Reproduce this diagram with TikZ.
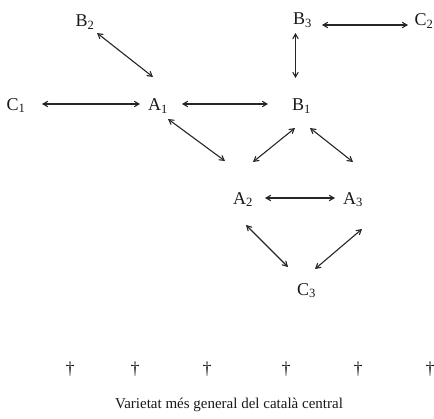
\documentclass[tikz,border=0pt]{standalone}
\usepackage{fontspec}
\setmainfont{Liberation Serif}
\usetikzlibrary{arrows}
\def\vr#1#2{#1\textsubscript{#2}}

\begin{document}
\begin{tikzpicture}[x=1pt,y=-1pt,>=angle 60,node distance=140pt,
    every node/.style={font=\fontsize{18}{20}\selectfont,text=black!90},
    link/.style={<->,draw=black!85,line width=1.1pt}]

    \useasboundingbox (0,0) rectangle (434,418);

    \draw (16,105.5) node (C1) {\vr{C}{1}};

    \node[right of=C1,xshift=2pt,yshift=-0.5pt] (A1) {\vr{A}{1}};
    \draw[link] ([shift={(26,-1.5)}]C1.center) to ([shift={(-18,-2)}]A1.center);

    \node[right of=A1,xshift=3.5pt] (B1) {\vr{B}{1}};
    \draw[link] ([shift={(24,-2)}]A1.center) to ([shift={(-33.5,-2)}]B1.center);

    \node[left of=A1,xshift=67pt,yshift=84pt] (B2) {\vr{B}{2}};
    \draw[link] ([shift={(12,11)}]B2.center) to ([shift={(-5,-29)}]A1.center);

    \node[above of=B1,xshift=1pt,yshift=-54pt] (B3) {\vr{B}{3}};
    \draw[link] ([shift={(-7,13)}]B3.center) to ([shift={(-6,-28)}]B1.center);

    \node[right of=B3,xshift=-18.5pt,yshift=-1pt] (C2) {\vr{C}{2}};
    \draw[link] ([shift={(19.5,5)}]B3.center) to ([shift={(-16,4)}]C2.center);

    \node[below of=B1,xshift=-58.5pt,yshift=46.5pt] (A2) {\vr{A}{2}};
    \draw[link] ([shift={(10,13)}]A1.center) to ([shift={(-18,-38.5)}]A2.center);
    \draw[link] ([shift={(-6.5,22)}]B1.center) to ([shift={(10,-37.5)}]A2.center);

    \node[right of=A2,xshift=-30pt] (A3) {\vr{A}{3}};
    \draw[link] ([shift={(8.5,22)}]B1.center) to ([shift={(0,-37.5)}]A3.center);
    \draw[link] ([shift={(22,-1.5)}]A2.center) to ([shift={(-18,-1.5)}]A3.center);

    \node[below of=A2,xshift=63.5pt,yshift=49pt] (C3) {\vr{C}{3}};
    \draw[link] ([shift={(3,25.5)}]A2.center) to ([shift={(-18.5,-23.5)}]C3.center);
    \draw[link] ([shift={(9,29.5)}]A3.center) to ([shift={(8.5,-21.5)}]C3.center);

    % daggers
    \node (D1) at (70,369) {\textdagger};
    \node (D2) at (135,369) {\textdagger};
    \node (D3) at (207,369) {\textdagger};
    \node (D4) at (286,369) {\textdagger};
    \node (D5) at (358,369) {\textdagger};
    \node (D6) at (430,369) {\textdagger};

    \node[font=\fontsize{15}{17}\selectfont] (V) at (229,405) {Varietat més general del català central};

\end{tikzpicture}
\end{document}
